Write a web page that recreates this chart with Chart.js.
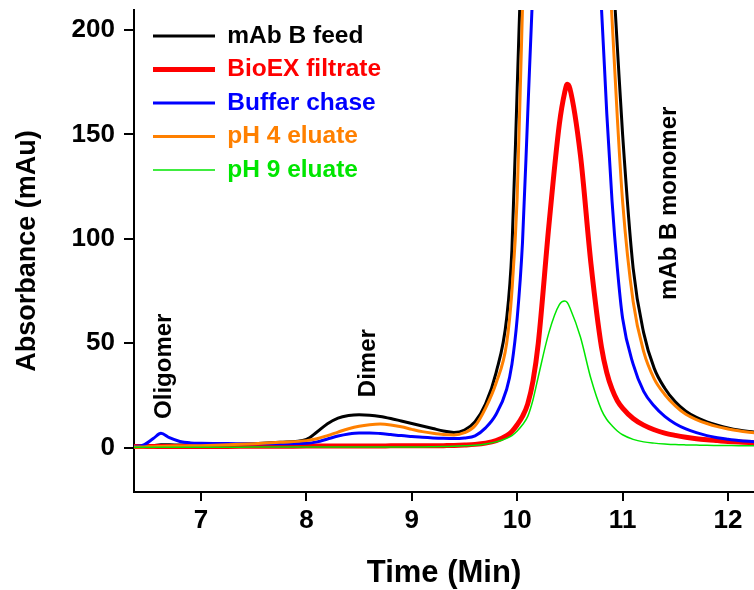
<!DOCTYPE html>
<html>
<head>
<meta charset="utf-8">
<script src="https://cdn.jsdelivr.net/npm/chart.js@4.4.0/dist/chart.umd.min.js"></script>
<style>
  html, body { margin: 0; padding: 0; background: #fff; }
  #wrap { width: 754px; height: 590px; }
</style>
</head>
<body>
<div id="wrap"><canvas id="myChart" width="754" height="590"></canvas></div>
<script>
// retention time (min), shared by every trace
const times = [6.36, 6.45, 6.55, 6.62, 6.7, 6.8, 6.9, 7.0, 7.25, 7.5, 7.75, 8.0,
  8.1, 8.2, 8.3, 8.4, 8.5, 8.6, 8.7, 8.8, 8.9, 9.0, 9.1, 9.2, 9.3, 9.4, 9.5, 9.6, 9.7, 9.8, 9.9,
  9.95, 10.0, 10.05, 10.1, 10.15, 10.2, 10.3, 10.4, 10.45, 10.475, 10.5, 10.6, 10.7, 10.8, 10.85, 10.9, 10.95,
  11.0, 11.1, 11.2, 11.3, 11.4, 11.5, 11.6, 11.7, 11.8, 11.9, 12.0, 12.1, 12.25];

// absorbance (mAu); the main peak goes past the top of the axis
const feed = [0.6, 0.8, 1.1, 1.4, 1.4, 1.3, 1.3, 1.3, 1.5, 1.9, 2.6, 4.0,
  7.5, 11.5, 14.2, 15.4, 15.8, 15.6, 15.0, 14.0, 12.8, 11.6, 10.4, 9.2, 8.0, 7.3, 8.5, 12.5, 21, 36, 62,
  95, 172, 250, 300, 345, 380, 420, 440, 445, 446, 440, 415, 370, 300, 270, 235, 192,
  150, 86, 55, 38, 28.5, 22, 17.5, 14.5, 12.4, 10.8, 9.5, 8.5, 7.5];
const filtrate = [0.6, 0.6, 0.6, 0.6, 0.6, 0.6, 0.6, 0.6, 0.6, 0.7, 0.7, 0.8,
  0.8, 0.8, 0.8, 0.8, 0.8, 0.8, 0.8, 0.9, 0.9, 0.9, 0.9, 0.9, 1.0, 1.1, 1.3, 1.6, 2.2, 3.4, 5.8,
  7.8, 11, 15, 21, 32, 50, 106, 155, 170, 174, 172, 140, 88, 48, 36, 28, 22.5,
  19, 14, 10.8, 8.6, 7.0, 5.9, 5.0, 4.3, 3.8, 3.4, 3.0, 2.7, 2.4];
const chase = [0.5, 1.2, 4.5, 6.9, 4.8, 3.0, 2.3, 2.1, 2.0, 1.9, 1.9, 2.1,
  2.8, 4.2, 5.6, 6.6, 7.1, 7.1, 6.8, 6.3, 5.8, 5.4, 5.0, 4.7, 4.5, 4.4, 4.7, 5.7, 9.5, 16, 28,
  40, 62, 98, 160, 222, 275, 330, 360, 365, 366, 360, 335, 285, 210, 160, 118, 86,
  62, 40, 27, 20, 15, 11.5, 9, 7.2, 5.8, 4.8, 4.1, 3.5, 2.9];
const eluate4 = [0.3, 0.4, 0.5, 0.6, 0.7, 0.8, 0.9, 1.0, 1.4, 1.9, 2.6, 3.4,
  4.3, 5.8, 7.5, 9.1, 10.3, 11.0, 11.3, 10.9, 10.0, 8.8, 7.7, 6.9, 6.3, 6.1, 7.2, 10.5, 19, 31, 50,
  75, 120, 210, 280, 325, 360, 400, 420, 425, 426, 420, 395, 345, 285, 248, 205, 158,
  118, 70, 46, 33, 25.5, 20, 16, 13.5, 11.6, 10.1, 9.0, 8.1, 7.1];
const eluate9 = [0.2, 0.2, 0.2, 0.2, 0.2, 0.2, 0.2, 0.2, 0.2, 0.3, 0.3, 0.3,
  0.3, 0.3, 0.3, 0.3, 0.3, 0.3, 0.4, 0.4, 0.4, 0.4, 0.4, 0.5, 0.6, 0.7, 0.9, 1.2, 1.8, 2.8, 4.5,
  5.8, 8, 11, 15, 23, 34, 55, 68.5, 70.2, 69.5, 67, 53, 33, 18, 13.5, 10.5, 8,
  6.2, 4, 2.8, 2.2, 1.8, 1.5, 1.35, 1.25, 1.15, 1.1, 1.05, 1.0, 1.0];

const seriesNames = ['mAb B feed', 'BioEX filtrate', 'Buffer chase', 'pH 4 eluate', 'pH 9 eluate'];
const xTicks = [7, 8, 9, 10, 11, 12];
const yTicks = [0, 50, 100, 150, 200];

// peak names, placed in data units
const peakLabels = [
  { text: 'Oligomer', x: 6.65, y: 39 },
  { text: 'Dimer', x: 8.59, y: 40.5 },
  { text: 'mAb B monomer', x: 11.44, y: 117 }
];

const FONT = "'Liberation Sans', Arial, sans-serif";

const toPoints = (values) => values.map((v, i) => ({ x: times[i], y: v }));

const makeSet = (i, values, color, width, order) => ({
  label: seriesNames[i],
  data: toPoints(values),
  borderColor: color,
  backgroundColor: color,
  borderWidth: width,
  pointRadius: 0,
  cubicInterpolationMode: 'monotone',
  fill: false,
  clip: 0,
  order: order
});

// put the legend inside the plot, top-left
const legendPlacer = {
  id: 'legendPlacer',
  beforeDraw(chart) {
    const lg = chart.legend;
    if (!lg) return;
    lg.left = chart.chartArea.left + 10;
    lg.top = chart.chartArea.top + 4.75;
    lg.right = lg.left + lg.width;
    lg.bottom = lg.top + 400;
  }
};

// vertical peak labels
const peakText = {
  id: 'peakText',
  afterDatasetsDraw(chart) {
    const ctx = chart.ctx;
    const xs = chart.scales.x, ys = chart.scales.y;
    ctx.save();
    ctx.fillStyle = '#000';
    ctx.font = 'bold 24px ' + FONT;
    ctx.textAlign = 'center';
    ctx.textBaseline = 'middle';
    peakLabels.forEach(p => {
      ctx.save();
      ctx.translate(xs.getPixelForValue(p.x), ys.getPixelForValue(p.y));
      ctx.rotate(-Math.PI / 2);
      ctx.fillText(p.text, 0, 0);
      ctx.restore();
    });
    ctx.restore();
  }
};

new Chart(document.getElementById('myChart'), {
  type: 'line',
  data: {
    datasets: [
      makeSet(0, feed, '#000000', 3, 4),
      makeSet(1, filtrate, '#ff0000', 5, 3),
      makeSet(2, chase, '#0000ff', 3, 2),
      makeSet(3, eluate4, '#ff8000', 3, 1),
      makeSet(4, eluate9, '#00e600', 1.5, 0)
    ]
  },
  options: {
    responsive: false,
    devicePixelRatio: 1,
    animation: false,
    layout: { padding: { top: 10, right: 0, bottom: 0, left: 0 } },
    plugins: {
      tooltip: { enabled: false },
      legend: {
        position: 'chartArea',
        align: 'start',
        labels: {
          usePointStyle: true,
          pointStyleWidth: 62,
          padding: 9,
          font: { family: FONT, size: 24.5, weight: 'bold' },
          generateLabels: (chart) => chart.data.datasets.map((ds, i) => ({
            text: ds.label,
            fillStyle: ds.borderColor,
            strokeStyle: ds.borderColor,
            fontColor: ds.borderColor,
            lineWidth: ds.borderWidth,
            pointStyle: 'line',
            hidden: false,
            datasetIndex: i
          }))
        }
      }
    },
    scales: {
      x: {
        type: 'linear',
        min: 6.3643,
        max: 12.2467,
        afterBuildTicks: (s) => { s.ticks = xTicks.map(v => ({ value: v })); },
        afterFit: (s) => { s.height = 98; s.paddingLeft = 0; s.paddingRight = 0; },
        grid: { display: true, drawOnChartArea: false, drawTicks: true, tickLength: 9, color: '#000', lineWidth: 2 },
        border: { display: true, color: '#000', width: 2 },
        ticks: { color: '#000', padding: 4, font: { family: FONT, size: 26, weight: 'bold' } },
        title: {
          display: true,
          text: 'Time (Min)',
          color: '#000',
          padding: { top: 0, bottom: 1.5 },
          font: { family: FONT, size: 31, weight: 'bold', lineHeight: 1 }
        }
      },
      y: {
        min: -21.2,
        max: 209.58,
        afterBuildTicks: (s) => { s.ticks = yTicks.map(v => ({ value: v })); },
        afterFit: (s) => { s.width = 134; s.paddingTop = 0; s.paddingBottom = 0; },
        grid: { display: true, drawOnChartArea: false, drawTicks: true, tickLength: 10, color: '#000', lineWidth: 2 },
        border: { display: true, color: '#000', width: 2 },
        ticks: { color: '#000', padding: 9, font: { family: FONT, size: 26, weight: 'bold' } },
        title: {
          display: true,
          text: 'Absorbance (mAu)',
          color: '#000',
          padding: { top: 14.5, bottom: 0 },
          font: { family: FONT, size: 27, weight: 'bold', lineHeight: 1 }
        }
      }
    }
  },
  plugins: [legendPlacer, peakText]
});
</script>
</body>
</html>
